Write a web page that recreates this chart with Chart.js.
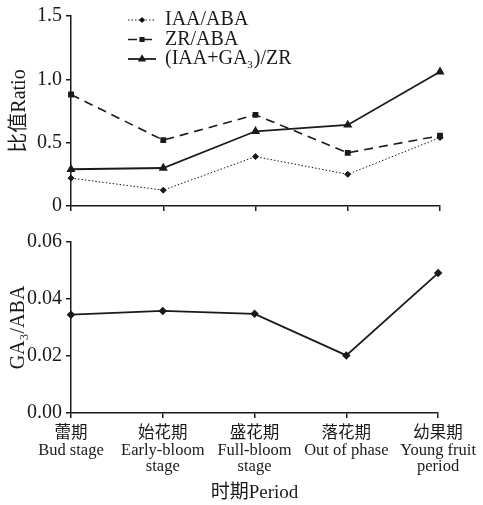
<!DOCTYPE html>
<html>
<head>
<meta charset="utf-8">
<script src="https://cdn.jsdelivr.net/npm/chart.js@4"></script>
<style>
  body { margin: 0; background: #fff; }
  canvas { position: absolute; left: 0; }
</style>
</head>
<body>
<canvas id="ratio-chart" width="483" height="225" style="top:0"></canvas>
<canvas id="ga-chart" width="483" height="280" style="top:225px"></canvas>
<script>
  var periods = [
    ["蕾期", "Bud stage"],
    ["始花期", "Early-bloom", "stage"],
    ["盛花期", "Full-bloom", "stage"],
    ["落花期", "Out of phase"],
    ["幼果期", "Young fruit", "period"]
  ];
  var iaaAba = [0.22, 0.125, 0.39, 0.25, 0.54];
  var zrAba = [0.88, 0.52, 0.72, 0.42, 0.555];
  var iaaGaZr = [0.29, 0.30, 0.59, 0.64, 1.06];
  var gaAba = [0.0345, 0.0358, 0.0348, 0.0202, 0.0491];
  var ratioTicks = [0, 0.5, 1.0, 1.5];
  var gaTicks = [0, 0.02, 0.04, 0.06];

  var serif = "'Liberation Serif', 'Noto Sans CJK SC', serif";
  var ink = '#1a1a1a';
  Chart.defaults.font.family = serif;
  Chart.defaults.color = ink;
  Chart.defaults.animation = false;

  function fixWidth(w) { return function (s) { s.width = w; }; }
  function fixHeight(h) { return function (s) { s.height = h; }; }

  // legend drawn by hand so the line styles show
  var lineLegend = {
    id: 'lineLegend',
    afterDraw: function (chart) {
      var ctx = chart.ctx;
      ctx.save();
      chart.data.datasets.forEach(function (ds, i) {
        var y = 20 + i * 19.5;
        ctx.strokeStyle = ink;
        ctx.lineWidth = ds.borderWidth;
        ctx.setLineDash(ds.borderDash || []);
        ctx.beginPath();
        ctx.moveTo(128, y);
        ctx.lineTo(156, y);
        ctx.stroke();
        ctx.setLineDash([]);
        Chart.helpers.drawPoint(ctx, {pointStyle: ds.pointStyle, radius: ds.pointRadius - 0.5, borderWidth: 1}, 142, y);
        ctx.fillStyle = ink;
        ctx.textBaseline = 'middle';
        ctx.font = '20px ' + serif;
        if (ds.label.indexOf('GA3') >= 0) {
          var parts = ds.label.split('3');
          var x = 165;
          ctx.fillText(parts[0], x, y);
          x += ctx.measureText(parts[0]).width;
          ctx.font = '11px ' + serif;
          ctx.fillText('3', x, y + 6);
          x += ctx.measureText('3').width + 1;
          ctx.font = '20px ' + serif;
          ctx.fillText(parts[1], x, y);
        } else {
          ctx.fillText(ds.label, 165, y);
        }
      });
      ctx.restore();
    }
  };

  var axisLine = {color: ink, width: 1.5};
  var gridTicks = {drawOnChartArea: false, tickLength: 5, color: ink, lineWidth: 1.5};

  new Chart(document.getElementById('ratio-chart'), {
    type: 'line',
    data: {
      labels: periods,
      datasets: [
        {label: 'IAA/ABA', data: iaaAba, borderColor: ink, backgroundColor: ink,
          borderWidth: 1, borderDash: [1.5, 2], pointStyle: 'rectRot', pointRadius: 3},
        {label: 'ZR/ABA', data: zrAba, borderColor: ink, backgroundColor: ink,
          borderWidth: 1.6, borderDash: [9, 6], pointStyle: 'rect', pointRadius: 3},
        {label: '(IAA+GA3)/ZR', data: iaaGaZr, borderColor: ink, backgroundColor: ink,
          borderWidth: 1.8, pointStyle: 'triangle', pointRadius: 3.5}
      ]
    },
    options: {
      responsive: false,
      layout: {padding: {top: 14, right: 43, left: 0, bottom: 0}},
      plugins: {legend: {display: false}, tooltip: {enabled: false}},
      scales: {
        x: {
          offset: false,
          grid: gridTicks,
          border: axisLine,
          ticks: {callback: function () { return ''; }},
          afterFit: fixHeight(19)
        },
        y: {
          min: 0, max: 1.5,
          afterBuildTicks: function (s) { s.ticks = ratioTicks.map(function (v) { return {value: v}; }); },
          ticks: {
            padding: 4,
            font: {size: 20},
            callback: function (v) { return v === 0 ? '0' : v.toFixed(1); }
          },
          grid: gridTicks,
          border: axisLine,
          title: {display: true, text: '比值Ratio', font: {size: 20}, padding: {top: 8}},
          afterFit: fixWidth(71)
        }
      }
    },
    plugins: [lineLegend]
  });

  new Chart(document.getElementById('ga-chart'), {
    type: 'line',
    data: {
      labels: periods,
      datasets: [
        {label: 'GA3/ABA', data: gaAba, borderColor: ink, backgroundColor: ink,
          borderWidth: 1.8, pointStyle: 'rectRot', pointRadius: 3}
      ]
    },
    options: {
      responsive: false,
      layout: {padding: {top: 17, right: 43, left: 0, bottom: 0}},
      plugins: {legend: {display: false}, tooltip: {enabled: false}},
      scales: {
        x: {
          offset: false,
          grid: gridTicks,
          border: axisLine,
          ticks: {padding: 7, maxRotation: 0, autoSkip: false, font: {size: 16.5, lineHeight: 1.02}},
          title: {display: true, text: '时期Period', font: {size: 19}, padding: {bottom: 1}},
          afterFit: fixHeight(92)
        },
        y: {
          min: 0, max: 0.06,
          afterBuildTicks: function (s) { s.ticks = gaTicks.map(function (v) { return {value: v}; }); },
          ticks: {
            padding: 4,
            font: {size: 20},
            callback: function (v) { return v.toFixed(2); }
          },
          grid: gridTicks,
          border: axisLine,
          title: {display: true, text: 'GA₃/ABA', font: {size: 20}, padding: {top: 7}},
          afterFit: fixWidth(71)
        }
      }
    }
  });
</script>
</body>
</html>
